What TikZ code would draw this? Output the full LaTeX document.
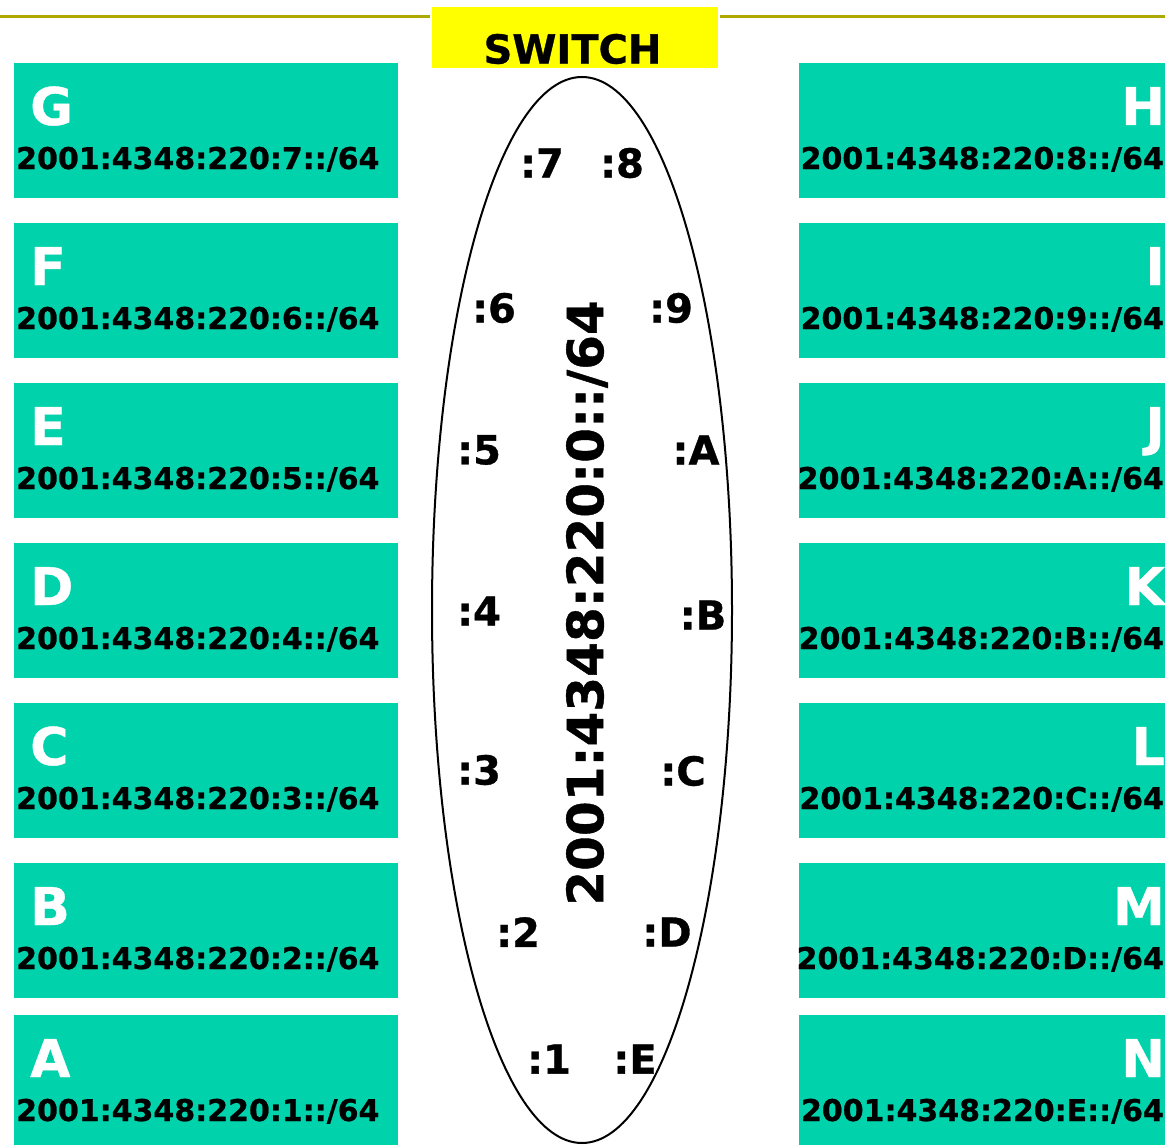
\documentclass[tikz,border=0pt]{standalone}
\usepackage{fontspec}
\setmainfont[BoldFeatures={FakeBold=0.8}]{DejaVu Sans}
\usetikzlibrary{shapes.geometric}
\definecolor{olivebar}{RGB}{175,168,0}
\definecolor{boxgreen}{RGB}{0,210,172}
\definecolor{switchyellow}{RGB}{255,255,0}
\begin{document}
\begin{tikzpicture}[x=1pt,y=-1pt,
  gbox/.style={fill=boxgreen, draw=none, inner sep=0, anchor=north west, minimum height=135pt},
  leftbox/.style={gbox, minimum width=384pt},
  rightbox/.style={gbox, minimum width=367pt},
  letter/.style={text=white, font=\fontsize{52}{52}\selectfont\bfseries, inner sep=0},
  addr/.style={text=black, font=\fontsize{30}{30}\selectfont\bfseries, inner sep=0},
  port/.style={text=black, font=\fontsize{40}{40}\selectfont\bfseries, inner sep=0},
  bar/.style={draw=olivebar, line width=3pt},
]
\useasboundingbox (0,0) rectangle (1165,1145);
\fill[white] (0,0) rectangle (1165,1145);

% top bar and switch label
\node[fill=switchyellow, draw=none, inner sep=0, anchor=north west,
      minimum width=286pt, minimum height=61pt] (switchbox) at (432,7) {};
\node[port] (switchlabel) at (572.5,49) {SWITCH};
\coordinate (barL) at (0,16.5);
\coordinate (barR) at (1165,16.5);
\draw[bar] (barL) -- ([xshift=-2pt]barL -| switchbox.west);
\draw[bar] ([xshift=2pt]barR -| switchbox.east) -- (barR);

% host boxes
\foreach \t/\L/\n/\R/\m in {63/G/7/H/8, 223/F/6/I/9, 383/E/5/J/A, 543/D/4/K/B,
                            703/C/3/L/C, 863/B/2/M/D, 1015/A/1/N/E}{
  \node[leftbox] (box\L) at (14,\t) {};
  \node[letter, anchor=base west] (name\L) at (30,\t+62) {\L};
  \node[addr, anchor=base west] (addr\L) at (16,\t+106) {2001:4348:220:\n::/64};
  \node[rightbox] (box\R) at (799,\t) {};
  \node[letter, anchor=base east] (name\R) at (1165,\t+62) {\R};
  \node[addr, anchor=base east] (addr\R) at (1164,\t+106) {2001:4348:220:\m::/64};
}

% switch ellipse
\node[draw=black, ellipse, line width=2pt, inner sep=0,
      minimum width=300pt, minimum height=1066pt] (switch) at (582,610) {};
\node[rotate=90, inner sep=0, font=\fontsize{50}{50}\selectfont\bfseries] (prefix)
      at (587,603) {2001:4348:220:0::/64};

% ports
\node[port] (p7) at (542,163) {:7};
\node[port] (p8) at (622,163) {:8};
\node[port] (p6) at (494,308) {:6};
\node[port] (p9) at (671,308) {:9};
\node[port] (p5) at (479,450) {:5};
\node[port] (pA) at (696,450) {:A};
\node[port] (p4) at (479,611) {:4};
\node[port] (pB) at (703,615) {:B};
\node[port] (p3) at (479,770) {:3};
\node[port] (pC) at (683,771) {:C};
\node[port] (p2) at (518,932) {:2};
\node[port] (pD) at (667,932) {:D};
\node[port] (p1) at (549,1059) {:1};
\node[port] (pE) at (635,1059) {:E};
\end{tikzpicture}
\end{document}
